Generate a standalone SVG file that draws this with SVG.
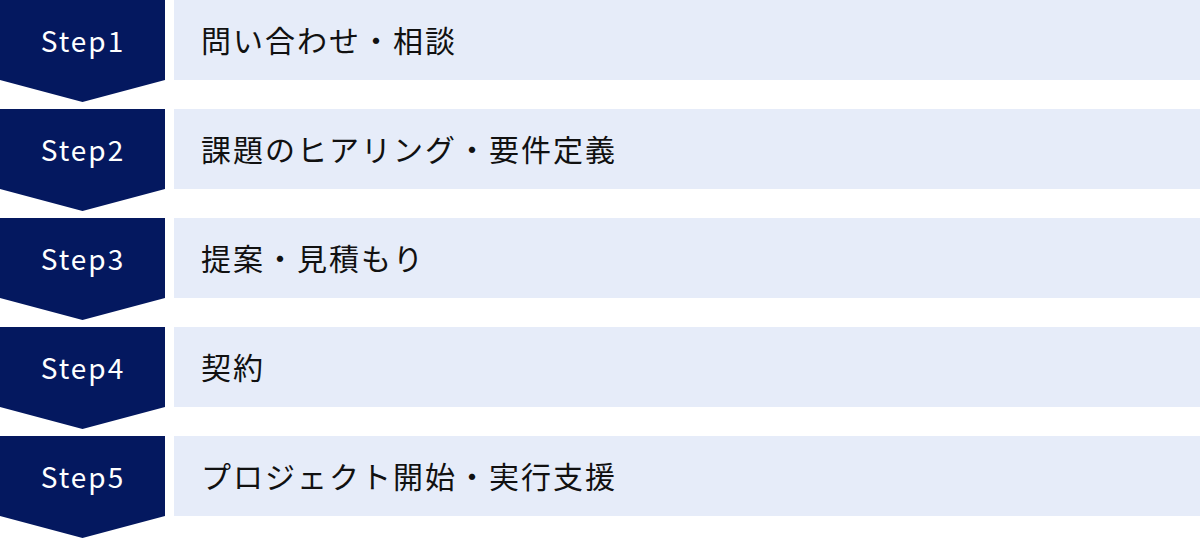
<svg xmlns="http://www.w3.org/2000/svg" width="1200" height="538" viewBox="0 0 1200 538">
<style>
.step{fill:#04185F}
.box{fill:#E6ECF9}
.st{font-family:"Noto Sans CJK JP","Noto Sans",sans-serif;font-size:28px;fill:#FFFFFF;letter-spacing:2px;text-anchor:middle}
.lb{font-family:"Noto Sans CJK JP","Noto Sans",sans-serif;font-size:30px;fill:#111111;letter-spacing:2px}
</style>
<rect width="1200" height="538" fill="#FFFFFF"/>
<g id="step1">
<path class="step" d="M0 0H165V80L82.5 102L0 80Z"/>
<rect class="box" x="174" y="0" width="1026" height="80"/>
<text class="st" x="83" y="52">Step1</text>
<text class="lb" x="201" y="52">問い合わせ・相談</text>
</g>
<g id="step2" transform="translate(0,109)">
<path class="step" d="M0 0H165V80L82.5 102L0 80Z"/>
<rect class="box" x="174" y="0" width="1026" height="80"/>
<text class="st" x="83" y="52">Step2</text>
<text class="lb" x="201" y="52">課題のヒアリング・要件定義</text>
</g>
<g id="step3" transform="translate(0,218)">
<path class="step" d="M0 0H165V80L82.5 102L0 80Z"/>
<rect class="box" x="174" y="0" width="1026" height="80"/>
<text class="st" x="83" y="52">Step3</text>
<text class="lb" x="201" y="52">提案・見積もり</text>
</g>
<g id="step4" transform="translate(0,327)">
<path class="step" d="M0 0H165V80L82.5 102L0 80Z"/>
<rect class="box" x="174" y="0" width="1026" height="80"/>
<text class="st" x="83" y="52">Step4</text>
<text class="lb" x="201" y="52">契約</text>
</g>
<g id="step5" transform="translate(0,436)">
<path class="step" d="M0 0H165V80L82.5 102L0 80Z"/>
<rect class="box" x="174" y="0" width="1026" height="80"/>
<text class="st" x="83" y="52">Step5</text>
<text class="lb" x="201" y="52">プロジェクト開始・実行支援</text>
</g>
<g id="connectors"></g>
</svg>
